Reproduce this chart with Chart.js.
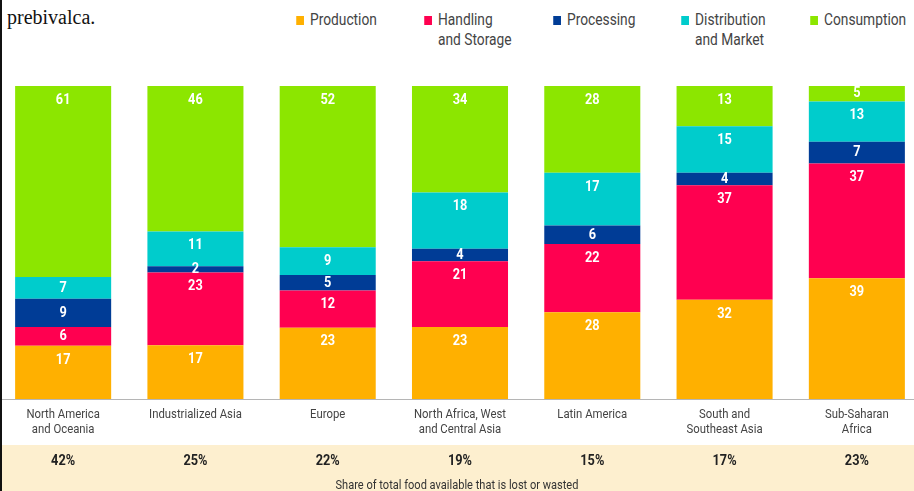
<!DOCTYPE html>
<html>
<head>
<meta charset="utf-8">
<script src="https://cdn.jsdelivr.net/npm/chart.js@4/dist/chart.umd.min.js"></script>
<style>
  html, body { margin: 0; padding: 0; background: #fff; }
  body { width: 914px; height: 491px; position: relative; overflow: hidden; }
  #wrap { position: absolute; left: -3px; top: 0; width: 926px; height: 491px; }
  #border { position: absolute; left: 0; top: 0; width: 2px; height: 491px; background: #111; z-index: 5; }
  #intro { position: absolute; left: 7px; top: 6px; font: 20px "Liberation Serif", serif; color: #111; }
  .leg { position: absolute; top: 10px; font: 16px Roboto, sans-serif; color: #444; line-height: 20px;
         transform: scaleX(0.86); transform-origin: 0 0; white-space: nowrap; }
  .leg i { position: absolute; left: -16px; top: 6px; width: 9px; height: 9px; }
</style>
</head>
<body>
<div id="border"></div>
<div id="intro">prebivalca.</div>
<div id="legend"></div>
<div id="wrap"><canvas id="main-chart"></canvas></div>
<script>
const regions = [
    ['North America', 'and Oceania'],
    ['Industrialized Asia'],
    ['Europe'],
    ['North Africa, West', 'and Central Asia'],
    ['Latin America'],
    ['South and', 'Southeast Asia'],
    ['Sub-Saharan', 'Africa']
];

const production = [17, 17, 23, 23, 28, 32, 39];
const handling = [6, 23, 12, 21, 22, 37, 37];
const processing = [9, 2, 5, 4, 6, 4, 7];
const distribution = [7, 11, 9, 18, 17, 15, 13];
const consumption = [61, 46, 52, 34, 28, 13, 5];

const shareLost = ['42%', '25%', '22%', '19%', '15%', '17%', '23%'];

const series = [
    { name: ['Production'], values: production, color: '#FFB000', x: 310 },
    { name: ['Handling', 'and Storage'], values: handling, color: '#FF0050', x: 438 },
    { name: ['Processing'], values: processing, color: '#003C96', x: 567 },
    { name: ['Distribution', 'and Market'], values: distribution, color: '#00CCCC', x: 695 },
    { name: ['Consumption'], values: consumption, color: '#8CE600', x: 824 }
];

// every bar is drawn full height, so scale each stack to 100
const totals = regions.map((r, i) => series.reduce((s, d) => s + d.values[i], 0));

const legend = document.getElementById('legend');
series.forEach(s => {
    const el = document.createElement('div');
    el.className = 'leg';
    el.style.left = s.x + 'px';
    el.innerHTML = '<i style="background:' + s.color + '"></i>' + s.name.join('<br>');
    legend.appendChild(el);
});

// squeezed text, the original uses a condensed face
function narrowText(ctx, text, x, y, sx) {
    ctx.save();
    ctx.translate(x, y);
    ctx.scale(sx, 1);
    ctx.fillText(text, 0, 0);
    ctx.restore();
}

const extras = {
    id: 'extras',
    beforeDraw(chart) {
        const ctx = chart.ctx;
        ctx.save();
        ctx.fillStyle = '#FDEFCF';
        ctx.fillRect(0, 445, chart.width, 46);
        ctx.restore();
    },
    afterDatasetsDraw(chart) {
        const ctx = chart.ctx;
        ctx.save();
        ctx.textAlign = 'center';
        ctx.textBaseline = 'middle';
        ctx.fillStyle = '#fff';
        ctx.font = 'bold 15px Roboto, sans-serif';
        chart.data.datasets.forEach((ds, di) => {
            chart.getDatasetMeta(di).data.forEach((bar, i) => {
                const top = Math.min(bar.y, bar.base);
                const mid = (bar.y + bar.base) / 2;
                narrowText(ctx, series[di].values[i], bar.x, Math.min(top + 14, mid), 0.85);
            });
        });
        // base line
        ctx.strokeStyle = '#b5b5b5';
        ctx.lineWidth = 1;
        ctx.beginPath();
        ctx.moveTo(0, chart.chartArea.bottom + 0.5);
        ctx.lineTo(chart.width, chart.chartArea.bottom + 0.5);
        ctx.stroke();
        const xs = chart.scales.x;
        // region names
        ctx.fillStyle = '#444';
        ctx.font = '13.5px Roboto, sans-serif';
        regions.forEach((lines, i) => {
            lines.forEach((t, j) => narrowText(ctx, t, xs.getPixelForValue(i), 415 + j * 15, 0.84));
        });
        // share lost row
        ctx.fillStyle = '#222';
        ctx.font = 'bold 15px Roboto, sans-serif';
        shareLost.forEach((t, i) => narrowText(ctx, t, xs.getPixelForValue(i), 461, 0.85));
        ctx.fillStyle = '#333';
        ctx.font = '13px Roboto, sans-serif';
        narrowText(ctx, 'Share of total food available that is lost or wasted', 460, 486, 0.85);
        ctx.restore();
    }
};

const data = {
    labels: regions.map(r => r.join(' ')),
    datasets: series.map(s => ({
        label: s.name.join(' '),
        data: s.values.map((v, i) => v / totals[i] * 100),
        backgroundColor: s.color,
        borderWidth: 0,
        categoryPercentage: 1,
        barPercentage: 0.726
    }))
};

const config = {
    type: 'bar',
    data: data,
    options: {
        responsive: true,
        maintainAspectRatio: false,
        animation: false,
        layout: { padding: { top: 86, left: 0, right: 0, bottom: 0 } },
        plugins: { legend: { display: false }, tooltip: { enabled: false } },
        scales: {
            x: {
                stacked: true,
                grid: { display: false },
                border: { display: false },
                ticks: { display: false },
                afterFit(scale) { scale.height = 92; }
            },
            y: { stacked: true, display: false, min: 0, max: 100 }
        }
    },
    plugins: [extras]
};

const myChart = new Chart(document.getElementById('main-chart'), config);
</script>
</body>
</html>
